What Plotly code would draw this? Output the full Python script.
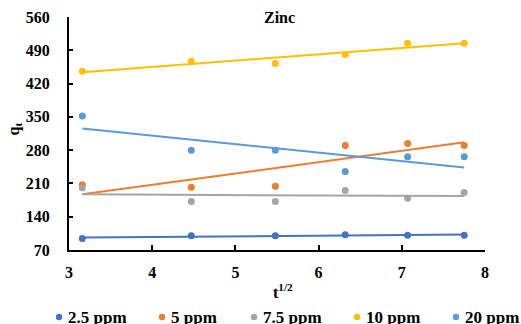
import numpy as np
import plotly.graph_objects as go

# square root of contact time (min^1/2)
t_sqrt = [3.16, 4.47, 5.48, 6.32, 7.07, 7.75]

series_names = ["2.5 ppm", "5 ppm", "7.5 ppm", "10 ppm", "20 ppm"]
q_2_5 = [94, 100, 100, 102, 101, 101]
q_5 = [207, 202, 204, 290, 294, 290]
q_7_5 = [201, 172, 172, 195, 179, 191]
q_10 = [446, 467, 462, 481, 505, 505]
q_20 = [352, 280, 280, 235, 266, 266]

series_values = [q_2_5, q_5, q_7_5, q_10, q_20]
colors = ["#4472C4", "#ED7D31", "#A5A5A5", "#FFC000", "#5B9BD5"]

x_ticks = [3, 4, 5, 6, 7, 8]
y_ticks = [70, 140, 210, 280, 350, 420, 490, 560]

FONT = "Liberation Serif"
W, H = 521, 324
ML, MR, MT, MB = 69, 36, 17, 74
PW, PH = W - ML - MR, H - MT - MB


def px_to_paper(px, py):
    return (px - ML) / PW, (H - MB - py) / PH


fig = go.Figure()
x = np.array(t_sqrt)
for name, vals, col in zip(series_names, series_values, colors):
    # linear trendline (least squares)
    slope, icpt = np.polyfit(x, np.array(vals), 1)
    xs = np.array([x.min(), x.max()])
    fig.add_trace(go.Scatter(
        x=xs, y=slope * xs + icpt, mode="lines",
        line=dict(color=col, width=2), showlegend=False, hoverinfo="skip"))
for name, vals, col in zip(series_names, series_values, colors):
    fig.add_trace(go.Scatter(
        x=t_sqrt, y=vals, mode="markers", name=name, showlegend=False,
        marker=dict(color=col, size=7)))

annotations = [
    dict(text="<b>Zinc</b>", x=0.5, y=1.0, xref="paper", yref="paper",
         xanchor="center", yanchor="middle", showarrow=False,
         font=dict(family=FONT, size=16, color="black"), xshift=2),
    dict(text="<b>t<sup>1/2</sup></b>", x=0.514, y=-0.175, xref="paper", yref="paper",
         xanchor="center", yanchor="middle", showarrow=False,
         font=dict(family=FONT, size=16, color="black")),
    dict(text="<b>q<sub>t</sub></b>", x=-0.125, y=0.5, xref="paper", yref="paper",
         xanchor="center", yanchor="middle", showarrow=False, textangle=-90,
         font=dict(family=FONT, size=16, color="black"), xshift=-3, yshift=4),
]

# legend row along the bottom: dot + label per series
legend_dot_x = [59, 162, 254, 357, 456]
legend_y = 317
shapes = []
for name, col, lx in zip(series_names, colors, legend_dot_x):
    cx, cy = px_to_paper(lx, legend_y)
    rx, ry = 3.2 / PW, 3.2 / PH
    shapes.append(dict(type="circle", xref="paper", yref="paper",
                       x0=cx - rx, x1=cx + rx, y0=cy - ry, y1=cy + ry,
                       fillcolor=col, line=dict(width=0)))
    tx, ty = px_to_paper(lx + 7, legend_y)
    annotations.append(dict(text=f"<b>{name}</b>", x=tx, y=ty, xref="paper", yref="paper",
                            xanchor="left", yanchor="middle", showarrow=False,
                            font=dict(family=FONT, size=17, color="black")))

fig.update_layout(
    width=W, height=H,
    margin=dict(l=ML, r=MR, t=MT, b=MB, autoexpand=False),
    paper_bgcolor="white", plot_bgcolor="white",
    font=dict(family=FONT, color="black"),
    showlegend=False,
    annotations=annotations,
    shapes=shapes,
)
fig.update_xaxes(
    range=[3, 8], tickvals=x_ticks, ticks="inside", ticklen=5, tickwidth=1.5,
    tickcolor="black", showline=True, linecolor="black", linewidth=2,
    showgrid=False, zeroline=False, tickfont=dict(family=FONT, size=16, color="black", weight="bold"),
    ticklabelstandoff=7)
fig.update_yaxes(
    range=[70, 560], tickvals=y_ticks, ticks="inside", ticklen=4, tickwidth=1.5,
    tickcolor="black", showline=True, linecolor="black", linewidth=2,
    showgrid=False, zeroline=False, tickfont=dict(family=FONT, size=16, color="black", weight="bold"),
    ticklabelstandoff=14)

fig.write_html("out.html")
